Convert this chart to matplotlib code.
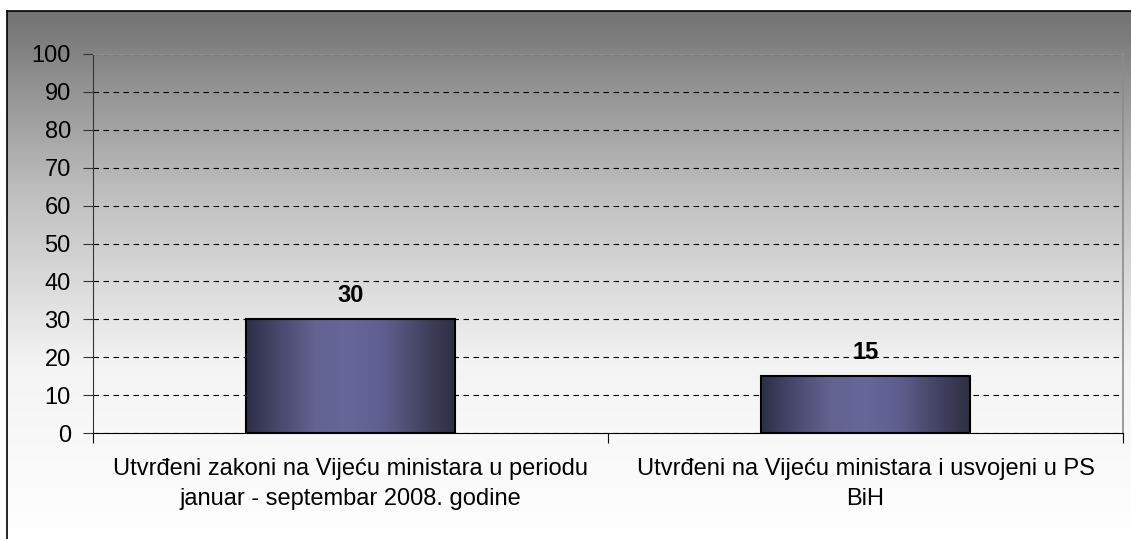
import matplotlib.pyplot as plt
import numpy as np
from matplotlib.colors import LinearSegmentedColormap

categories = ['Utvrđeni zakoni na Vijeću ministara u periodu\njanuar - septembar 2008. godine',
              'Utvrđeni na Vijeću ministara i usvojeni u PS\nBiH']
values = [30, 15]

plt.rcParams['font.family'] = ['Liberation Sans', 'DejaVu Sans']

W, H = 1131, 539
fig = plt.figure(figsize=(W / 100, H / 100), dpi=100)

# chart area background: vertical gray gradient with black frame
bg = fig.add_axes([7 / W, -0.01, 1.0, 1 - 11 / H + 0.01])
grad = np.linspace(0, 1, 256).reshape(-1, 1)
bg_cmap = LinearSegmentedColormap.from_list('bg', ['#ffffff', '#f4f4f4', '#bdbdbd', '#727272'])
bg.imshow(grad, aspect='auto', cmap=bg_cmap, origin='lower', extent=[0, 1, 0, 1])
bg.set_xticks([])
bg.set_yticks([])
for s in bg.spines.values():
    s.set_color('black')
    s.set_linewidth(1.2)

# plot area
left, right, top, bottom = 93, 1123, 54, 433
ax = fig.add_axes([left / W, 1 - bottom / H, (right - left) / W, (bottom - top) / H])
ax.patch.set_alpha(0)
x = np.arange(len(categories))

bar_cmap = LinearSegmentedColormap.from_list('bar', ['#2e2e46', '#4a4a70', '#63638f', '#66669a',
                                                    '#5e5e8e', '#454566', '#2e2e44'])
bars = ax.bar(x, values, width=0.405, color='none', edgecolor='black', linewidth=1.5, zorder=3)
hgrad = np.linspace(0, 1, 256).reshape(1, -1)
for b in bars:
    bx, by, bw, bh = b.get_x(), b.get_y(), b.get_width(), b.get_height()
    im = ax.imshow(hgrad, aspect='auto', cmap=bar_cmap, extent=[bx, bx + bw, by, by + bh], zorder=2)
    im.set_clip_path(b)
    ax.text(bx + bw / 2, bh + 3.3, str(int(bh)), ha='center', va='bottom', fontsize=17,
            fontweight='bold', zorder=4)
ax.set_xlim(-0.5, len(categories) - 0.5)
ax.set_ylim(0, 100)

ax.set_yticks(np.arange(0, 101, 10))
ax.yaxis.grid(True, linestyle=(0, (5, 4)), color='black', linewidth=0.8)
ax.set_axisbelow(True)
ax.tick_params(axis='y', direction='out', length=7, labelsize=17, pad=9, color='#333333')

ax.set_xticks([-0.5, 0.5, 1.5])
ax.set_xticklabels([])
ax.set_xticks(x, minor=True)
ax.set_xticklabels(categories, minor=True, fontsize=17, linespacing=1.45)
ax.tick_params(axis='x', which='major', direction='out', length=7, color='black')
ax.tick_params(axis='x', which='minor', length=0, pad=18)

ax.spines['left'].set_color('#333333')
ax.spines['bottom'].set_color('black')
ax.spines['top'].set_color('#8c8c8c')
ax.spines['right'].set_color('#8c8c8c')
ax.spines['top'].set_linewidth(0.8)
ax.spines['right'].set_linewidth(1.2)

fig.savefig('out.png', dpi=100)
